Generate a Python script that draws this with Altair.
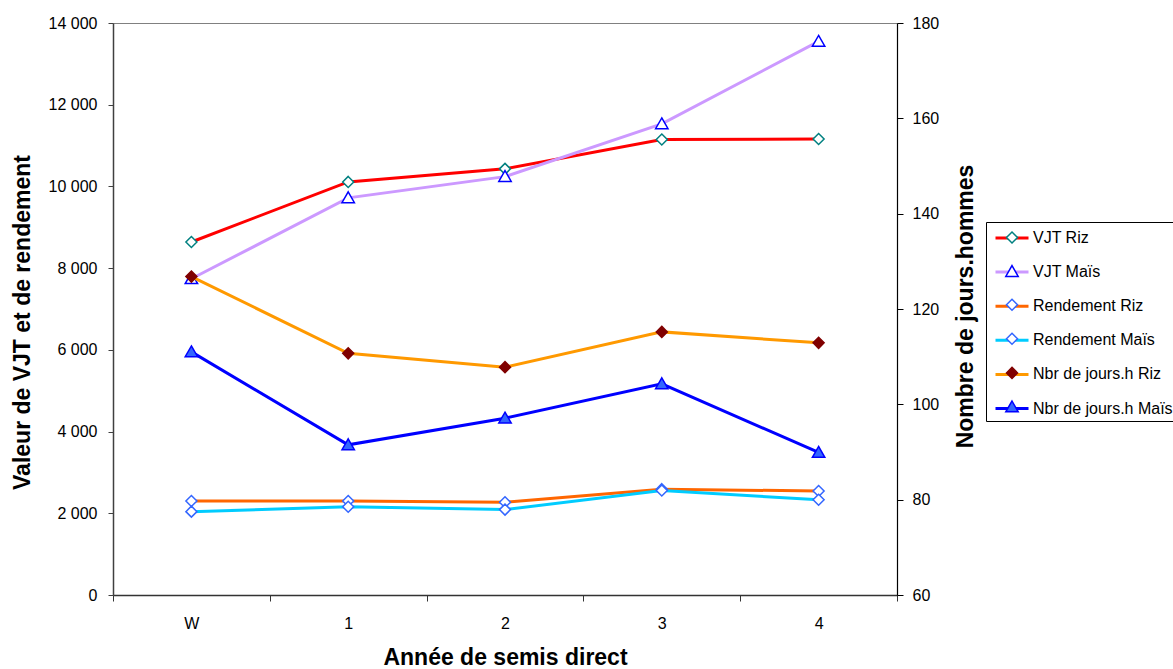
import altair as alt
import pandas as pd

FONT = "Liberation Sans"

years = ["W", "1", "2", "3", "4"]
series_names = ["VJT Riz", "VJT Maïs", "Rendement Riz", "Rendement Maïs",
                "Nbr de jours.h Riz", "Nbr de jours.h Maïs"]
marker_keys = ["m1", "m2", "m3", "m4", "m5", "m6"]

vjt_riz = [8640, 10110, 10430, 11150, 11160]
vjt_mais = [7740, 9720, 10240, 11530, 13550]
rend_riz = [2300, 2300, 2270, 2590, 2545]
rend_mais = [2040, 2160, 2090, 2560, 2330]
nbr_riz = [126.8, 110.7, 107.8, 115.2, 112.9]
nbr_mais = [111.0, 91.5, 97.1, 104.3, 89.9]

line_colors = ["#FF0000", "#CC99FF", "#FF6600", "#00CCFF", "#FF9900", "#0000FF"]
marker_fill = ["#FFFFFF", "#FFFFFF", "#FFFFFF", "#FFFFFF", "#800000", "#3366FF"]
marker_stroke = ["#008080", "#0000FF", "#3366FF", "#3366FF", "#800000", "#0000FF"]
DIAMOND = "M0,-0.55L0.55,0L0,0.55L-0.55,0Z"
TRIANGLE = "M0,-0.6L0.62,0.48L-0.62,0.48Z"
marker_shapes = [DIAMOND, TRIANGLE, DIAMOND, DIAMOND, DIAMOND, TRIANGLE]

left_series = [vjt_riz, vjt_mais, rend_riz, rend_mais]
right_series = [nbr_riz, nbr_mais]


def build(values_list, offset):
    rows = []
    for i, vals in enumerate(values_list):
        for y, v in zip(years, vals):
            rows.append({"year": y, "series": series_names[offset + i],
                         "mk": marker_keys[offset + i], "value": v,
                         "order": offset + i})
    return pd.DataFrame(rows)


left_df = build(left_series, 0)
right_df = build(right_series, 4)

x_enc = alt.X(
    "year:N", sort=years, bandPosition=0.5,
    scale=alt.Scale(type="band", domain=years, paddingInner=0, paddingOuter=0),
    axis=alt.Axis(
        title="Année de semis direct", titleFont=FONT, titleFontSize=23,
        titleFontWeight="bold", titleColor="black", titleX=392, titleY=69,
        titleBaseline="alphabetic", titleAlign="center",
        labelAngle=0, labelFont=FONT, labelFontSize=16, labelColor="black",
        labelBaseline="alphabetic", labelPadding=27, tickSize=6,
        tickBand="extent", domainColor="#333333", tickColor="#333333",
        domainWidth=1.5, grid=False,
    ),
)

color_enc = alt.Color(
    "series:N", sort=series_names,
    scale=alt.Scale(domain=series_names, range=line_colors),
    legend=alt.Legend(
        title=None, orient="none", legendX=873, legendY=199,
        direction="vertical", symbolType="M-1.65,0H1.65", symbolSize=400,
        symbolStrokeWidth=3, padding=4.5, symbolOffset=10, labelOffset=9.5,
        rowPadding=14.1, labelFont=FONT, labelFontSize=16, labelColor="black",
        labelLimit=300, strokeColor="black",
    ),
)

mlegend = alt.Legend(
    title=None, orient="none", legendX=873, legendY=199,
    direction="vertical", symbolSize=400, symbolStrokeWidth=1.5,
    padding=4.5, symbolOffset=10.5, labelOffset=9.5, rowPadding=14.1,
    labelFont=FONT, labelFontSize=16, labelExpr="''", labelLimit=300,
)
shape_enc = alt.Shape("mk:N", scale=alt.Scale(domain=marker_keys, range=marker_shapes), legend=mlegend)
fill_enc = alt.Fill("mk:N", scale=alt.Scale(domain=marker_keys, range=marker_fill), legend=mlegend)
stroke_enc = alt.Stroke("mk:N", scale=alt.Scale(domain=marker_keys, range=marker_stroke), legend=mlegend)

y_left = alt.Y(
    "value:Q",
    scale=alt.Scale(domain=[0, 14000], nice=False),
    axis=alt.Axis(
        orient="left", values=list(range(0, 14001, 2000)),
        labelExpr="replace(format(datum.value, ','), ',', ' ')",
        title="Valeur de VJT et de rendement", titleFont=FONT, titleFontSize=23,
        titleFontWeight="bold", titleColor="black", titleAngle=270,
        titleBaseline="bottom", titleAlign="center", titleX=-78.5, titleY=299,
        labelFont=FONT, labelFontSize=16, labelColor="black", labelPadding=11,
        tickSize=5, domainColor="#404040", tickColor="#404040", domainWidth=1.5,
        grid=False,
    ),
)

y_right = alt.Y(
    "value:Q",
    scale=alt.Scale(domain=[60, 180], nice=False, zero=False),
    axis=alt.Axis(
        orient="right", values=list(range(60, 181, 20)),
        title="Nombre de jours.hommes", titleFont=FONT, titleFontSize=23,
        titleFontWeight="bold", titleColor="black", titleAngle=270,
        titleBaseline="bottom", titleAlign="center", titleX=80, titleY=283,
        labelFont=FONT, labelFontSize=16, labelColor="black", labelPadding=9,
        tickSize=6, domainColor="black", tickColor="black", domainWidth=1.2,
        grid=False,
    ),
)

left_lines = alt.Chart(left_df).mark_line(strokeWidth=3).encode(
    x=x_enc, y=y_left, color=color_enc, order="order:Q")
left_points = alt.Chart(left_df).mark_point(opacity=1, strokeWidth=1.5, size=400, fillOpacity=1).encode(
    x=x_enc, y=y_left, shape=shape_enc, fill=fill_enc, stroke=stroke_enc)
right_lines = alt.Chart(right_df).mark_line(strokeWidth=3).encode(
    x=x_enc, y=y_right, color=color_enc, order="order:Q")
right_points = alt.Chart(right_df).mark_point(opacity=1, strokeWidth=1.5, size=400, fillOpacity=1).encode(
    x=x_enc, y=y_right, shape=shape_enc, fill=fill_enc, stroke=stroke_enc)

left_layer = alt.layer(left_lines, left_points)
right_layer = alt.layer(right_lines, right_points)

chart = alt.layer(left_layer, right_layer).resolve_scale(y="independent").properties(
    width=784, height=572,
    autosize=alt.AutoSizeParams(type="none"),
    padding={"left": 113, "top": 23, "right": 276, "bottom": 74},
    background="white",
).configure_view(stroke="#808080", strokeWidth=1)

chart.save("out.html", embed_options={"renderer": "svg", "actions": False})
